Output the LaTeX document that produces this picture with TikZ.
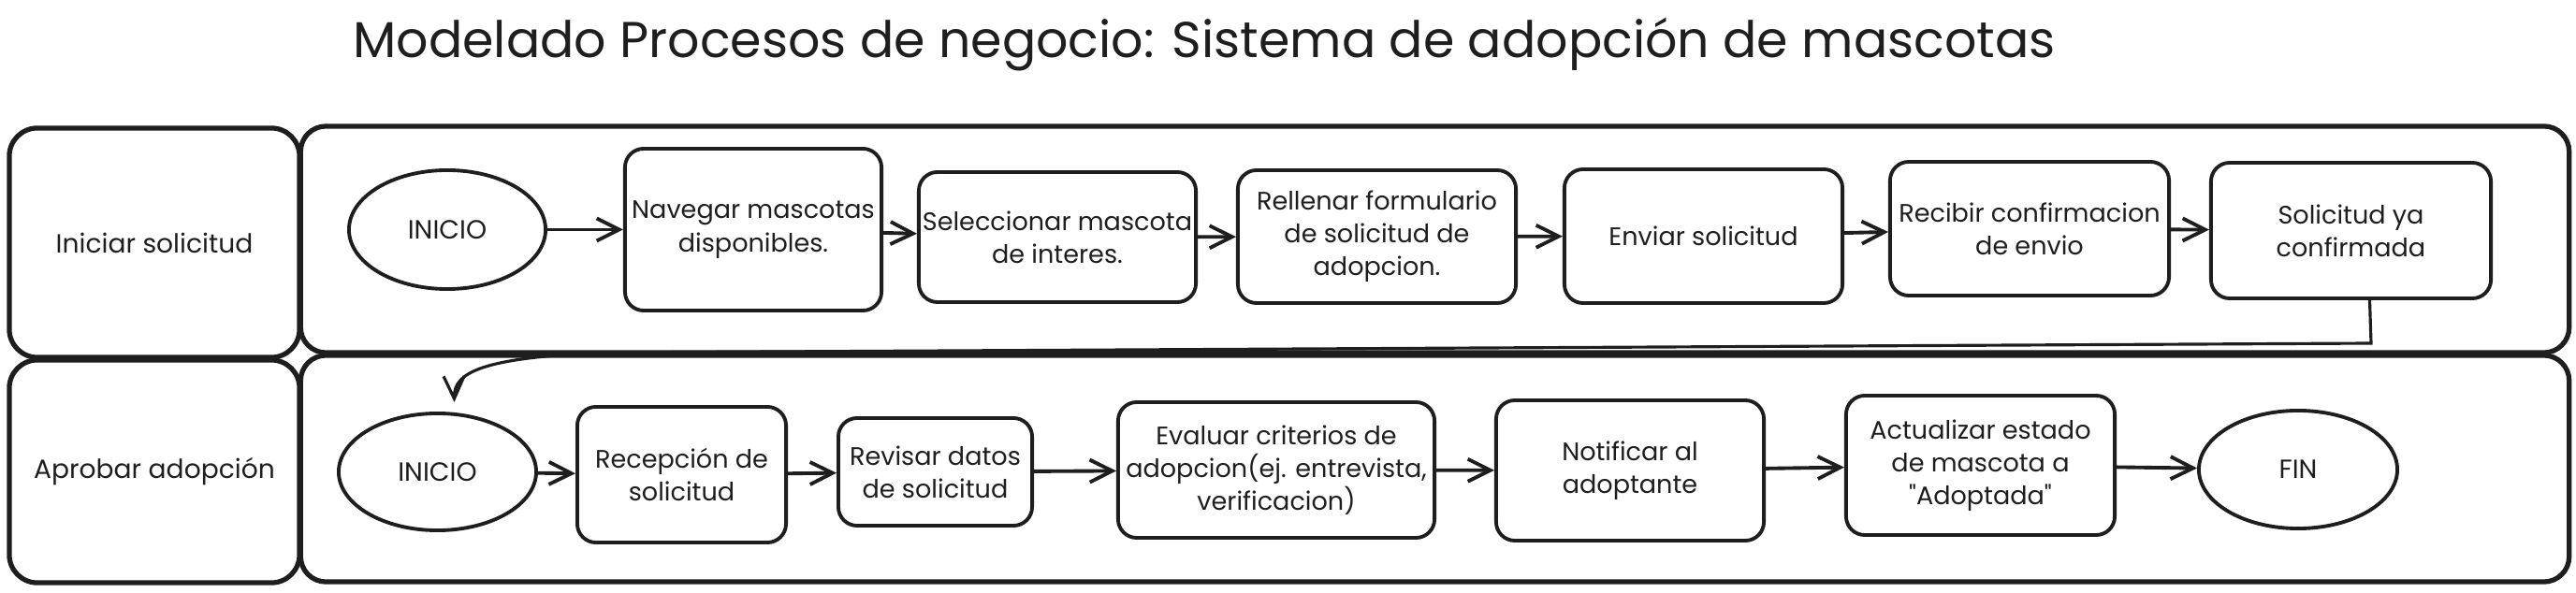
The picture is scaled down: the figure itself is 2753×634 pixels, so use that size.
\documentclass[tikz,border=0pt]{standalone}
\usepackage{fontspec}
\setmainfont{Poppins}[Ligatures=TeXOff]
\usetikzlibrary{arrows.meta,shapes.geometric}
\definecolor{ink}{HTML}{1E1E1E}
\begin{document}
\begin{tikzpicture}[x=0.01cm,y=-0.01cm,
  lanebox/.style={draw=ink, line width=1.5pt, rounded corners=0.27cm, inner sep=0pt},
  hdr/.style={draw=ink, line width=1.5pt, rounded corners=0.3cm, inner sep=0pt, text=ink, font=\fontsize{8}{10}\selectfont},
  proc/.style={draw=ink, fill=white, line width=1.1pt, rounded corners=0.2cm, align=center, inner sep=0pt, text=ink, font=\fontsize{7.7}{10}\selectfont},
  term/.style={draw=ink, fill=white, ellipse, line width=1.1pt, inner sep=0pt, text=ink, font=\fontsize{8}{10}\selectfont},
  flow/.style={draw=ink, line width=1.1pt, -{Straight Barb[length=2.4mm,width=2.4mm]}},
  conn/.style={draw=ink, line width=0.9pt, -{Straight Barb[length=2.4mm,width=2.2mm]}}
]
\useasboundingbox (0,0) rectangle (2753,634);

% title
\node[anchor=base, text=ink, font=\fontsize{15.3}{19}\selectfont] (title) at (1287,62) {Modelado Procesos de negocio: Sistema de adopción de mascotas};

% swimlanes
\node[hdr, minimum width=3.10cm, minimum height=2.45cm] (h1) at (165,259.5) {Iniciar solicitud};
\node[hdr, minimum width=3.10cm, minimum height=2.38cm] (h2) at (165,504) {Aprobar adopción};
\node[lanebox, minimum width=24.23cm, minimum height=2.42cm] (lane1) at (1533.5,256) {};
\node[lanebox, minimum width=24.23cm, minimum height=2.42cm] (lane2) at (1533.5,501) {};

% lane 1
\node[term, minimum width=2.10cm, minimum height=1.27cm] (ini1) at (478,245.5) {INICIO};
\node[proc, minimum width=2.74cm, minimum height=1.73cm] (nav) at (805,245.5) {Navegar mascotas\\disponibles.};
\node[proc, minimum width=2.96cm, minimum height=1.39cm] (sel) at (1130,253.5) {Seleccionar mascota\\de interes.};
\node[proc, minimum width=2.97cm, minimum height=1.42cm] (rel) at (1471.5,253) {Rellenar formulario\\de solicitud de\\adopcion.};
\node[proc, minimum width=2.97cm, minimum height=1.43cm] (env) at (1820.5,252.5) {Enviar solicitud};
\node[proc, minimum width=2.98cm, minimum height=1.43cm] (rec) at (2169,244.5) {Recibir confirmacion\\de envio};
\node[proc, minimum width=2.99cm, minimum height=1.45cm] (sol) at (2512.5,246.5) {Solicitud ya\\confirmada};

% lane 2
\node[term, minimum width=2.11cm, minimum height=1.25cm] (ini2) at (467.5,504.5) {INICIO};
\node[proc, minimum width=2.23cm, minimum height=1.45cm] (recp) at (728.5,507.5) {Recepción de\\solicitud};
\node[proc, minimum width=2.07cm, minimum height=1.15cm] (rev) at (999.5,504.5) {Revisar datos\\de solicitud};
\node[proc, minimum width=3.38cm, minimum height=1.45cm] (eva) at (1364,502.5) {Evaluar criterios de\\adopcion(ej. entrevista,\\verificacion)};
\node[proc, minimum width=2.86cm, minimum height=1.50cm] (notf) at (1742,503) {Notificar al\\adoptante};
\node[proc, minimum width=2.87cm, minimum height=1.49cm] (act) at (2116.5,497.5) {Actualizar estado\\de mascota a\\"Adoptada"};
\node[term, minimum width=2.12cm, minimum height=1.26cm] (fin) at (2456,502) {FIN};

% flows lane 1
\draw[flow] (ini1) -- (nav);
\draw[flow] (nav) -- (sel);
\draw[flow] (sel) -- (rel);
\draw[flow] (rel) -- (env);
\draw[flow] (env) -- (rec);
\draw[flow] (rec) -- (sol);

% flows lane 2
\draw[flow] (ini2) -- (recp);
\draw[flow] (recp) -- (rev);
\draw[flow] (rev) -- (eva);
\draw[flow] (eva) -- (notf);
\draw[flow] (notf) -- (act);
\draw[flow] (act) -- (fin);

% cross-lane connector
\coordinate (c1) at (2534,367);
\coordinate (c2) at (640,377);
\draw[conn] ([xshift=0.2cm]sol.south) -- (c1) -- (c2) .. controls (515,383) and (485,398) .. ([xshift=0.18cm,yshift=0.1cm]ini2.north);
\end{tikzpicture}
\end{document}
